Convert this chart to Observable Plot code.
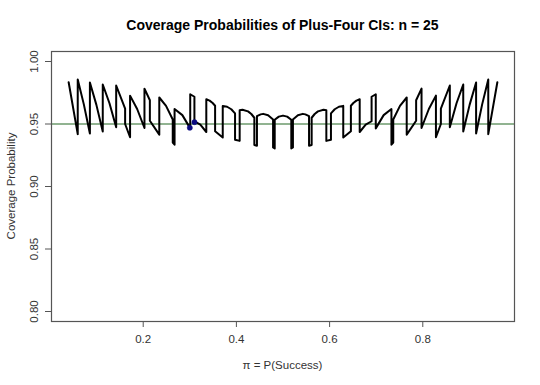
<!DOCTYPE html>
<html>
<head>
<meta charset="utf-8">
<script src="https://cdn.jsdelivr.net/npm/d3@7"></script>
<script src="https://cdn.jsdelivr.net/npm/@observablehq/plot@0.6"></script>
<style>
  html, body { margin: 0; padding: 0; background: #fff; }
  #chart svg { display: block; }
</style>
</head>
<body>
<div id="chart"></div>
<script>
// Success probability (pi) at each vertex of the coverage curve
const piValues = [
  0.0400, 0.0595, 0.0595, 0.0726, 0.0856, 0.0856, 0.0994, 0.1132, 0.1132, 0.1276,
  0.1420, 0.1420, 0.1612, 0.1612, 0.1718, 0.1718, 0.1870, 0.2027, 0.2027, 0.2143,
  0.2143, 0.2345, 0.2345, 0.2490, 0.2634, 0.2634, 0.2673, 0.2673, 0.2840, 0.3009,
  0.3009, 0.3099, 0.3099, 0.3226, 0.3354, 0.3354, 0.3425, 0.3490, 0.3543, 0.3543,
  0.3707, 0.3707, 0.3800, 0.3890, 0.3971, 0.3971, 0.4070, 0.4070, 0.4130, 0.4250,
  0.4320, 0.4385, 0.4385, 0.4441, 0.4441, 0.4520, 0.4575, 0.4680, 0.4787, 0.4787,
  0.4822, 0.4822, 0.4910, 0.5000,
  0.5090, 0.5178, 0.5178, 0.5213, 0.5213, 0.5320, 0.5425, 0.5480, 0.5559, 0.5559,
  0.5615, 0.5615, 0.5680, 0.5750, 0.5870, 0.5930, 0.5930, 0.6029, 0.6029, 0.6110,
  0.6200, 0.6293, 0.6293, 0.6457, 0.6457, 0.6510, 0.6575, 0.6646, 0.6646, 0.6774,
  0.6901, 0.6901, 0.6991, 0.6991, 0.7160, 0.7327, 0.7327, 0.7366, 0.7366, 0.7510,
  0.7655, 0.7655, 0.7857, 0.7857, 0.7973, 0.7973, 0.8130, 0.8282, 0.8282, 0.8388,
  0.8388, 0.8580, 0.8580, 0.8724, 0.8868, 0.8868, 0.9006, 0.9144, 0.9144, 0.9274,
  0.9405, 0.9405, 0.9600
];
// Coverage probability at each vertex
const coverageValues = [
  0.9834, 0.9419, 0.9856, 0.9657, 0.9424, 0.9832, 0.9655, 0.9440, 0.9816, 0.9666,
  0.9474, 0.9808, 0.9623, 0.9500, 0.9394, 0.9727, 0.9620, 0.9468, 0.9783, 0.9690,
  0.9526, 0.9415, 0.9712, 0.9645, 0.9536, 0.9352, 0.9335, 0.9620, 0.9571, 0.9465,
  0.9738, 0.9718, 0.9522, 0.9495, 0.9436, 0.9698, 0.9687, 0.9668, 0.9646, 0.9442,
  0.9392, 0.9645, 0.9638, 0.9618, 0.9585, 0.9374, 0.9365, 0.9610, 0.9614, 0.9601,
  0.9580, 0.9550, 0.9332, 0.9326, 0.9563, 0.9577, 0.9581, 0.9570, 0.9536, 0.9312,
  0.9304, 0.9534, 0.9559, 0.9567,
  0.9559, 0.9534, 0.9304, 0.9312, 0.9536, 0.9570, 0.9581, 0.9577, 0.9563, 0.9326,
  0.9332, 0.9550, 0.9580, 0.9601, 0.9614, 0.9610, 0.9365, 0.9374, 0.9585, 0.9618,
  0.9638, 0.9645, 0.9392, 0.9442, 0.9646, 0.9668, 0.9687, 0.9698, 0.9436, 0.9495,
  0.9522, 0.9718, 0.9738, 0.9465, 0.9571, 0.9620, 0.9335, 0.9352, 0.9536, 0.9645,
  0.9712, 0.9415, 0.9526, 0.9690, 0.9783, 0.9468, 0.9620, 0.9727, 0.9394, 0.9500,
  0.9623, 0.9808, 0.9474, 0.9666, 0.9816, 0.9440, 0.9655, 0.9832, 0.9424, 0.9657,
  0.9856, 0.9419, 0.9834
];
// Highlighted points
const pointPi = [0.300, 0.310];
const pointCoverage = [0.947, 0.9515];
// Nominal level
const nominal = [0.95];
// Tick values
const xTicks = [0.2, 0.4, 0.6, 0.8];
const yTicks = [0.80, 0.85, 0.90, 0.95, 1.00];
const yTickLabels = ["0.80", "0.85", "0.90", "0.95", "1.00"];

const curve = piValues.map((p, i) => ({p, c: coverageValues[i]}));
const points = pointPi.map((p, i) => ({p, c: pointCoverage[i]}));
const yTickData = yTicks.map((v, i) => ({v, label: yTickLabels[i]}));

const FONT = "'Liberation Sans', Arial, Helvetica, sans-serif";

const chart = Plot.plot({
  width: 540,
  height: 385,
  marginLeft: 51,
  marginRight: 26,
  marginTop: 51,
  marginBottom: 64,
  style: {fontFamily: FONT, fontSize: "11.5px", color: "#333", background: "#fff"},
  x: {domain: [0.0032, 0.9968]},
  y: {domain: [0.792, 1.008]},
  marks: [
    Plot.ruleY(nominal, {stroke: "#6d9a6d", strokeWidth: 1.3}),
    Plot.line(curve, {x: "p", y: "c", stroke: "#000", strokeWidth: 2, strokeLinejoin: "round"}),
    Plot.dot(points, {x: "p", y: "c", r: 2.6, fill: "#0b0b80", stroke: "#0b0b80", strokeWidth: 0.5}),
    Plot.frame({stroke: "#555", strokeWidth: 1.2}),
    Plot.axisX({ticks: xTicks, tickSize: 6, tickPadding: 7, tickFormat: d => d.toFixed(1), label: null, stroke: "#555", fill: "#333"}),
    Plot.axisY({ticks: yTicks, tickSize: 6, tickFormat: () => "", label: null, stroke: "#555"}),
    Plot.text(yTickData, {y: "v", text: "label", frameAnchor: "left", dx: -17, rotate: -90, textAnchor: "middle", lineAnchor: "middle", fill: "#333", fontSize: 11.5})
  ]
});

const svg = d3.select(chart);
svg.append("text")
  .attr("x", 282.5).attr("y", 30)
  .attr("text-anchor", "middle")
  .style("font-family", FONT).style("font-weight", "bold").style("font-size", "14px").attr("fill", "#000")
  .text("Coverage Probabilities of Plus-Four CIs: n = 25");
svg.append("text")
  .attr("x", 282.5).attr("y", 369)
  .attr("text-anchor", "middle")
  .style("font-family", FONT).style("font-size", "11.5px").attr("fill", "#333")
  .text("π = P(Success)");
svg.append("text")
  .attr("transform", "translate(15,186) rotate(-90)")
  .attr("text-anchor", "middle")
  .style("font-family", FONT).style("font-size", "11.5px").attr("fill", "#333")
  .text("Coverage Probability");

document.getElementById("chart").appendChild(chart);
</script>
</body>
</html>
